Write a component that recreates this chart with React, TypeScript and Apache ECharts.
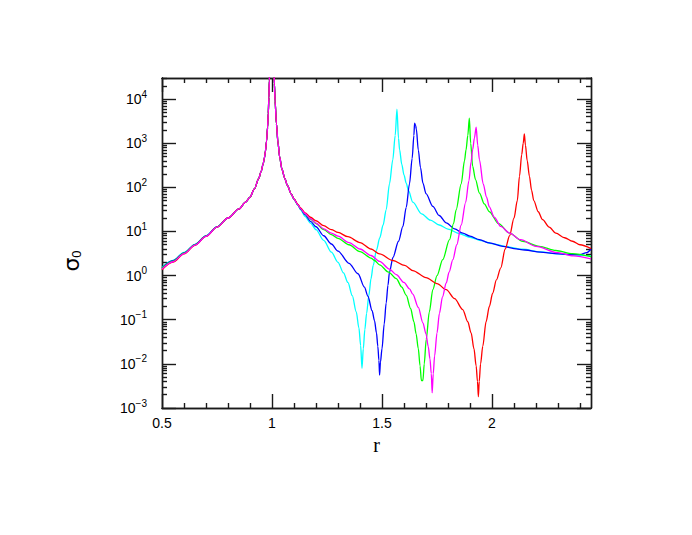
import React, { useEffect, useRef } from "react";
import * as echarts from "echarts";

// ---- data: [r, sigma0] ----
const cyanData: [number, number][] = [
  [0.5, 1.55], [0.55, 2.22], [0.6, 3.35], [0.65, 5.1], [0.7, 8.0], [0.75, 12.8], [0.8, 20.2], [0.85, 32.4],
  [0.88, 46], [0.9, 60], [0.92, 92], [0.94, 160], [0.95, 225], [0.96, 340], [0.965, 450], [0.97, 650],
  [0.975, 1100], [0.98, 2300], [0.983, 4800], [0.986, 11000], [0.988, 26000], [0.99, 60000], [1.0, 1e6],
  [1.009, 45000], [1.011, 22000], [1.014, 9000], [1.02, 2800], [1.027, 1050], [1.035, 480], [1.045, 260],
  [1.058, 160], [1.07, 110], [1.088, 70], [1.1, 53], [1.118, 39], [1.13, 31], [1.15, 22], [1.175, 15.5],
  [1.2, 11], [1.235, 6.3], [1.27, 3.4], [1.3, 2.0], [1.325, 1.15], [1.345, 0.7], [1.365, 0.35], [1.383, 0.15],
  [1.395, 0.065], [1.403, 0.026], [1.409, 0.0079], [1.415, 0.022], [1.422, 0.06], [1.43, 0.14], [1.44, 0.35],
  [1.45, 0.85], [1.46, 1.7], [1.475, 3.8], [1.49, 7.2], [1.505, 14], [1.519, 31], [1.534, 120], [1.549, 420],
  [1.56, 1500], [1.568, 5900], [1.575, 1300], [1.58, 710], [1.59, 330], [1.6, 190], [1.61, 125], [1.62, 85],
  [1.64, 46], [1.68, 25], [1.72, 18], [1.76, 14], [1.8, 11.3], [1.85, 9], [1.9, 7.4], [1.95, 6.2], [2.0, 5.3],
  [2.07, 4.5], [2.14, 3.95], [2.22, 3.45], [2.3, 3.1], [2.38, 2.9], [2.45, 2.8],
];

const blueData: [number, number][] = [
  [0.5, 1.5], [0.55, 2.17], [0.6, 3.28], [0.65, 5.03], [0.7, 7.9], [0.75, 12.7], [0.8, 20.2], [0.85, 32.4],
  [0.88, 46], [0.9, 60], [0.92, 92], [0.94, 160], [0.95, 225], [0.96, 340], [0.965, 450], [0.97, 650],
  [0.975, 1100], [0.98, 2300], [0.983, 4800], [0.986, 11000], [0.988, 26000], [0.99, 60000], [1.0, 1e6],
  [1.009, 45000], [1.011, 22000], [1.014, 9000], [1.02, 2800], [1.027, 1050], [1.035, 480], [1.045, 260],
  [1.058, 160], [1.07, 110], [1.088, 70], [1.1, 54], [1.118, 40], [1.13, 32], [1.15, 24], [1.175, 17],
  [1.2, 12.8], [1.235, 8], [1.27, 5.2], [1.3, 3.6], [1.35, 1.9], [1.391, 1.1], [1.42, 0.55], [1.436, 0.34],
  [1.455, 0.16], [1.466, 0.095], [1.475, 0.05], [1.481, 0.025], [1.486, 0.012], [1.489, 0.0056], [1.493, 0.011],
  [1.5, 0.022], [1.51, 0.08], [1.519, 0.24], [1.527, 0.6], [1.534, 1.2], [1.55, 2.6], [1.575, 6], [1.595, 13],
  [1.61, 35], [1.625, 120], [1.637, 450], [1.645, 1500], [1.648, 2850], [1.653, 2500], [1.656, 2100],
  [1.665, 700], [1.675, 280], [1.686, 125], [1.7, 72], [1.731, 37], [1.76, 23], [1.792, 15.6], [1.83, 11.5],
  [1.867, 9.2], [1.9, 7.8], [1.943, 6.5], [1.988, 5.5], [2.05, 4.6], [2.1, 4.1], [2.15, 3.8], [2.22, 3.4],
  [2.29, 3.15], [2.36, 3.0], [2.4, 3.0], [2.43, 3.3], [2.45, 4.0],
];

const greenData: [number, number][] = [
  [0.5, 1.46], [0.55, 2.12], [0.6, 3.22], [0.65, 4.97], [0.7, 7.85], [0.75, 12.6], [0.8, 20.2], [0.85, 32.4],
  [0.88, 46], [0.9, 60], [0.92, 92], [0.94, 160], [0.95, 225], [0.96, 340], [0.965, 450], [0.97, 650],
  [0.975, 1100], [0.98, 2300], [0.983, 4800], [0.986, 11000], [0.988, 26000], [0.99, 60000], [1.0, 1e6],
  [1.009, 45000], [1.011, 22000], [1.014, 9000], [1.02, 2800], [1.027, 1050], [1.035, 480], [1.045, 260],
  [1.058, 160], [1.07, 110], [1.088, 70], [1.1, 54], [1.118, 40], [1.13, 33], [1.15, 25], [1.175, 19],
  [1.2, 15], [1.235, 11], [1.27, 8.5], [1.3, 7.0], [1.35, 5.0], [1.4, 3.5], [1.45, 2.5], [1.466, 2.2],
  [1.489, 1.75], [1.53, 1.2], [1.565, 0.85], [1.59, 0.55], [1.61, 0.36], [1.63, 0.18], [1.645, 0.09],
  [1.655, 0.048], [1.665, 0.022], [1.673, 0.009], [1.679, 0.0042], [1.686, 0.0042], [1.692, 0.01],
  [1.701, 0.036], [1.715, 0.15], [1.731, 0.48], [1.75, 1.0], [1.776, 2.3], [1.807, 6.5], [1.825, 15],
  [1.837, 31], [1.86, 120], [1.875, 400], [1.882, 710], [1.89, 1500], [1.897, 3700], [1.903, 1000],
  [1.912, 300], [1.925, 150], [1.943, 74], [1.965, 42], [1.988, 28], [2.03, 15], [2.079, 9.2], [2.14, 6.0],
  [2.215, 4.6], [2.29, 3.7], [2.366, 3.15], [2.45, 2.7],
];

const redData: [number, number][] = [
  [0.5, 1.36], [0.55, 2.02], [0.6, 3.1], [0.65, 4.85], [0.7, 7.7], [0.75, 12.5], [0.8, 20.2], [0.85, 32.4],
  [0.88, 46], [0.9, 60], [0.92, 92], [0.94, 160], [0.95, 225], [0.96, 340], [0.965, 450], [0.97, 650],
  [0.975, 1100], [0.98, 2300], [0.983, 4800], [0.986, 11000], [0.988, 26000], [0.99, 60000], [1.0, 1e6],
  [1.009, 45000], [1.011, 22000], [1.014, 9000], [1.02, 2800], [1.027, 1050], [1.035, 480], [1.045, 260],
  [1.058, 160], [1.07, 110], [1.088, 70], [1.1, 55], [1.118, 41], [1.13, 34], [1.15, 26.5], [1.175, 21],
  [1.2, 17.5], [1.235, 13.5], [1.27, 11], [1.3, 9.5], [1.345, 7.6], [1.4, 5.6], [1.45, 4.0], [1.489, 3.1],
  [1.55, 2.2], [1.603, 1.7], [1.64, 1.3], [1.7, 0.9], [1.75, 0.66], [1.792, 0.48], [1.83, 0.3], [1.867, 0.17],
  [1.89, 0.09], [1.905, 0.05], [1.918, 0.022], [1.928, 0.009], [1.934, 0.004], [1.938, 0.0018], [1.942, 0.004],
  [1.948, 0.01], [1.958, 0.025], [1.973, 0.09], [1.988, 0.2], [2.003, 0.4], [2.02, 0.8], [2.04, 1.5],
  [2.06, 4], [2.08, 8], [2.1, 20], [2.115, 50], [2.125, 180], [2.135, 550], [2.142, 1000], [2.147, 1620],
  [2.152, 900], [2.16, 400], [2.17, 180], [2.18, 85], [2.19, 50], [2.21, 28], [2.23, 18.5], [2.26, 12.5],
  [2.29, 9.2], [2.33, 7.2], [2.366, 6.0], [2.4, 5.0], [2.45, 4.1],
];

const magentaData: [number, number][] = [
  [0.5, 1.4], [0.55, 2.06], [0.6, 3.15], [0.65, 4.9], [0.7, 7.75], [0.75, 12.5], [0.8, 20.2], [0.85, 32.4],
  [0.88, 46], [0.9, 60], [0.92, 92], [0.94, 160], [0.95, 225], [0.96, 340], [0.965, 450], [0.97, 650],
  [0.975, 1100], [0.98, 2300], [0.983, 4800], [0.986, 11000], [0.988, 26000], [0.99, 60000], [1.0, 1e6],
  [1.009, 45000], [1.011, 22000], [1.014, 9000], [1.02, 2800], [1.027, 1050], [1.035, 480], [1.045, 260],
  [1.058, 160], [1.07, 110], [1.088, 70], [1.1, 54], [1.118, 40], [1.13, 33], [1.15, 25.5], [1.175, 19.5],
  [1.2, 15.5], [1.235, 11.5], [1.27, 9.2], [1.3, 7.8], [1.35, 5.6], [1.4, 4.0], [1.45, 2.85], [1.489, 2.1],
  [1.534, 1.4], [1.565, 1.05], [1.6, 0.7], [1.625, 0.5], [1.64, 0.38], [1.665, 0.19], [1.686, 0.085],
  [1.7, 0.048], [1.71, 0.025], [1.718, 0.013], [1.724, 0.006], [1.728, 0.0022], [1.733, 0.006], [1.739, 0.015],
  [1.75, 0.05], [1.761, 0.14], [1.775, 0.33], [1.792, 0.68], [1.805, 1.2], [1.822, 2.3], [1.84, 5], [1.86, 14],
  [1.88, 45], [1.895, 140], [1.905, 380], [1.912, 710], [1.92, 1300], [1.928, 2300], [1.935, 900],
  [1.943, 420], [1.96, 120], [1.975, 60], [1.988, 36], [2.01, 21], [2.04, 13], [2.08, 9.2], [2.13, 6.5],
  [2.2, 4.6], [2.3, 3.3], [2.37, 2.8], [2.45, 2.4],
];

// ---- axis ticks ----
const xMajorTicks = [0.5, 1, 1.5, 2];
const xMinorTicks = [0.6, 0.7, 0.8, 0.9, 1.1, 1.2, 1.3, 1.4, 1.6, 1.7, 1.8, 1.9, 2.1, 2.2, 2.3, 2.4];
const yExponents = [-3, -2, -1, 0, 1, 2, 3, 4];
const yMinorMultipliers = [2, 3, 4, 5, 6, 7, 8, 9];

const X_MIN = 0.5;
const X_MAX = 2.45;
const Y_MIN = 0.001;
const Y_MAX = 30000;

const seriesList = [
  { name: "cyan", color: "#00ffff", data: cyanData },
  { name: "blue", color: "#0000ff", data: blueData },
  { name: "green", color: "#00ff00", data: greenData },
  { name: "red", color: "#ff0000", data: redData },
  { name: "magenta", color: "#ff00ff", data: magentaData },
];

const AXIS_COLOR = "#1a1a1a";
const LABEL_FONT = "Liberation Sans";

export default function App() {
  const ref = useRef<HTMLDivElement>(null);

  useEffect(() => {
    if (!ref.current) return;
    const chart = echarts.init(ref.current, undefined, { renderer: "svg" });

    const yMajor = yExponents.map((e) => Math.pow(10, e));
    const yMinor: number[] = [];
    yExponents.forEach((e) => {
      yMinorMultipliers.forEach((m) => {
        const v = m * Math.pow(10, e);
        if (v <= Y_MAX * 1.0001) yMinor.push(v);
      });
    });

    const baseX = (position: "top" | "bottom", ticks: number[], len: number, withLabels: boolean) => ({
      type: "value",
      position,
      min: X_MIN,
      max: X_MAX,
      axisLine: { show: true, onZero: false, lineStyle: { color: AXIS_COLOR, width: 1.4 } },
      axisTick: { show: true, inside: true, length: len, customValues: ticks, lineStyle: { color: AXIS_COLOR, width: 1.4 } },
      axisLabel: withLabels
        ? {
            show: true,
            customValues: xMajorTicks,
            margin: 8,
            color: "#000",
            fontSize: 14,
            fontFamily: LABEL_FONT,
            formatter: (v: number) => String(v),
          }
        : { show: false },
      splitLine: { show: false },
    });

    const baseY = (position: "left" | "right", ticks: number[], len: number, withLabels: boolean) => ({
      type: "log",
      logBase: 10,
      position,
      min: Y_MIN,
      max: Y_MAX,
      axisLine: { show: true, onZero: false, lineStyle: { color: AXIS_COLOR, width: 1.4 } },
      axisTick: { show: true, inside: true, length: len, customValues: ticks, lineStyle: { color: AXIS_COLOR, width: 1.4 } },
      axisLabel: withLabels
        ? {
            show: true,
            customValues: yMajor,
            margin: 15,
            formatter: (v: number) => {
              const e = Math.round(Math.log10(v));
              const s = e < 0 ? "\u2212" + String(-e) : String(e);
              return "{b|10}{sup|" + s + "}";
            },
            rich: {
              b: { fontSize: 14, fontFamily: LABEL_FONT, color: "#000", lineHeight: 20 },
              sup: { fontSize: 10, fontFamily: LABEL_FONT, color: "#000", lineHeight: 11, verticalAlign: "top" },
            },
          }
        : { show: false },
      splitLine: { show: false },
    });

    const option: any = {
      animation: false,
      backgroundColor: "#ffffff",
      grid: { left: 162, top: 78, width: 429, height: 330, containLabel: false },
      xAxis: [
        {
          ...baseX("bottom", xMajorTicks, 14, true),
          name: "r",
          nameLocation: "middle",
          nameGap: 22,
          nameTextStyle: { fontSize: 20, fontFamily: "Liberation Serif", color: "#000" },
        },
        baseX("bottom", xMinorTicks, 5, false),
        baseX("top", xMajorTicks, 14, false),
        baseX("top", xMinorTicks, 5, false),
      ],
      yAxis: [
        baseY("left", yMajor, 14, true),
        baseY("left", yMinor, 5, false),
        baseY("right", yMajor, 14, false),
        baseY("right", yMinor, 5, false),
      ],
      graphic: [
        {
          type: "text",
          x: 71,
          y: 261,
          rotation: Math.PI / 2,
          style: {
            text: "{s|\u03c3}{sub|0}",
            align: "center",
            verticalAlign: "middle",
            rich: {
              s: { fontSize: 22, fontFamily: "DejaVu Sans", fill: "#000", lineHeight: 24 },
              sub: { fontSize: 13, fontFamily: "Liberation Sans", fill: "#000", lineHeight: 12, verticalAlign: "bottom" },
            },
          },
        },
      ],
      series: seriesList.map((s) => ({
        type: "line",
        name: s.name,
        xAxisIndex: 0,
        yAxisIndex: 0,
        data: s.data,
        showSymbol: false,
        symbol: "none",
        clip: true,
        smooth: 0.3,
        smoothMonotone: "x",
        lineStyle: { color: s.color, width: 1.3 },
        itemStyle: { color: s.color },
      })),
    };

    chart.setOption(option);
    return () => chart.dispose();
  }, []);

  return (
    <div
      ref={ref}
      style={{ position: "absolute", left: 0, top: 0, width: 692, height: 535, background: "#fff" }}
    />
  );
}
